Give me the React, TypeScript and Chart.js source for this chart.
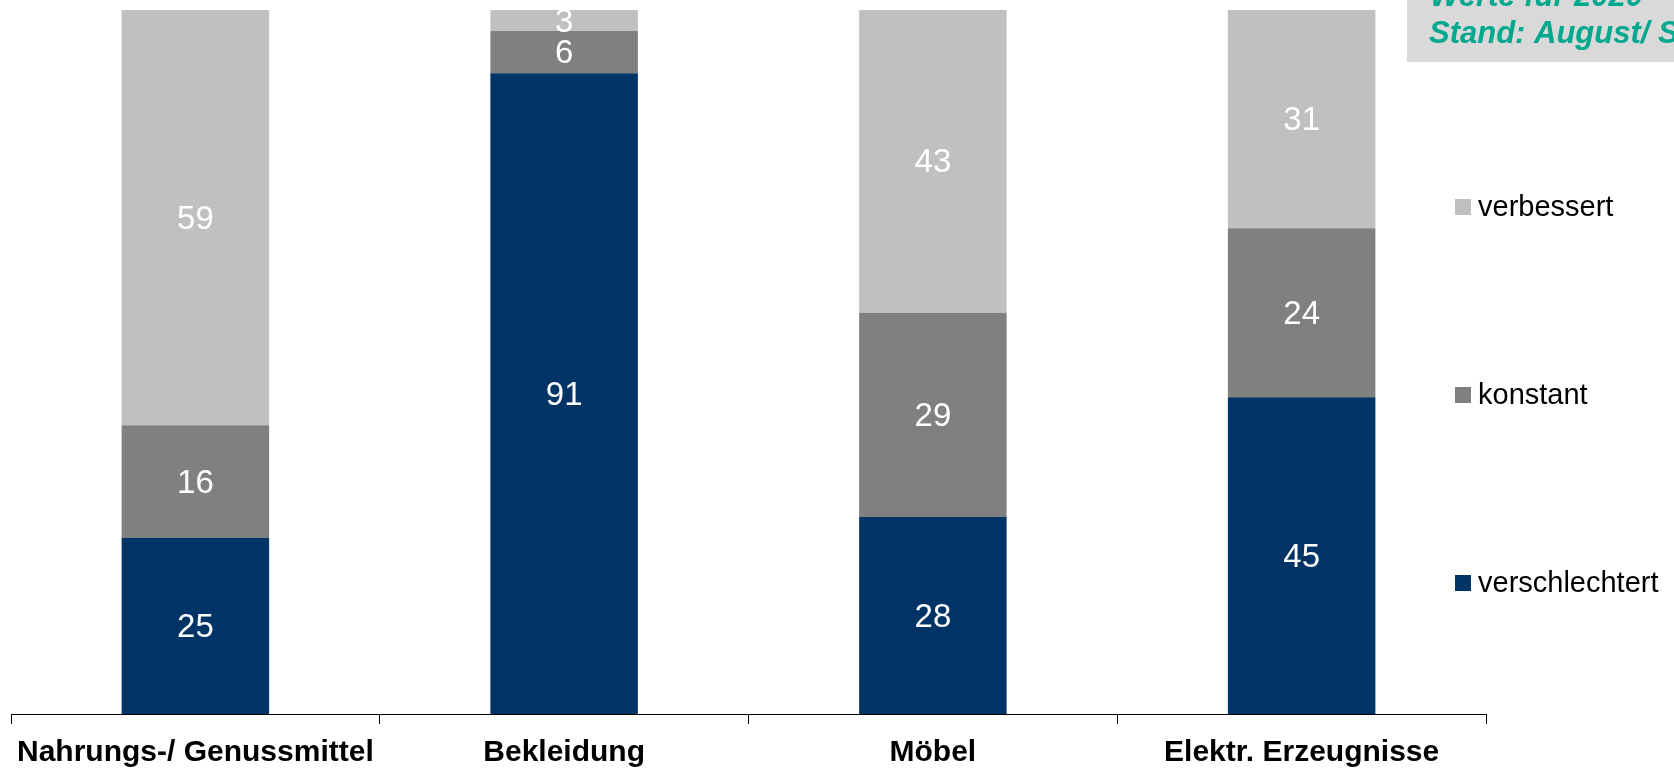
import React, { useEffect, useRef } from "react";
import { Chart, registerables } from "chart.js";

Chart.register(...registerables);

const categories = ["Nahrungs-/ Genussmittel", "Bekleidung", "Möbel", "Elektr. Erzeugnisse"];
const verschlechtert = [25, 91, 28, 45];
const konstant = [16, 6, 29, 24];
const verbessert = [59, 3, 43, 31];
const noteLines = ["Werte für 2020", "Stand: August/ September 2020"];

const FONT = "'Liberation Sans', Arial, Helvetica, sans-serif";

const valueLabels = {
  id: "valueLabels",
  afterDatasetsDraw(chart: any) {
    const ctx = chart.ctx;
    ctx.save();
    ctx.fillStyle = "#ffffff";
    ctx.font = `33px ${FONT}`;
    ctx.textAlign = "center";
    ctx.textBaseline = "middle";
    chart.data.datasets.forEach((ds: any, di: number) => {
      const meta = chart.getDatasetMeta(di);
      meta.data.forEach((el: any, i: number) => {
        const v = ds.data[i];
        const props = el.getProps(["x", "y", "base"], true);
        const cy = (props.y + props.base) / 2;
        ctx.fillText(String(v), props.x, cy + 2);
      });
    });
    ctx.restore();
  },
};

const sideLegend = {
  id: "sideLegend",
  afterDraw(chart: any) {
    const ctx = chart.ctx;
    const ys = [583, 395, 207];
    ctx.save();
    ctx.textAlign = "left";
    ctx.textBaseline = "middle";
    ctx.font = `29px ${FONT}`;
    chart.data.datasets.forEach((ds: any, di: number) => {
      const y = ys[di];
      ctx.fillStyle = ds.backgroundColor;
      ctx.fillRect(1455, y - 8, 16, 16);
      ctx.fillStyle = "#000000";
      ctx.fillText(ds.label, 1478, y + 1);
    });
    // note box
    ctx.fillStyle = "#d9d9d9";
    ctx.fillRect(1407, 0, 300, 62);
    ctx.fillStyle = "#00a88e";
    ctx.font = `italic bold 31px ${FONT}`;
    ctx.textBaseline = "alphabetic";
    ctx.fillText(noteLines[0], 1430, 6);
    ctx.fillText(noteLines[1], 1429, 43);
    ctx.restore();
  },
};

export default function App() {
  const ref = useRef<HTMLCanvasElement>(null);
  useEffect(() => {
    if (!ref.current) return;
    const chart = new Chart(ref.current, {
      type: "bar",
      data: {
        labels: categories,
        datasets: [
          { label: "verschlechtert", data: verschlechtert, backgroundColor: "#003366" },
          { label: "konstant", data: konstant, backgroundColor: "#808080" },
          { label: "verbessert", data: verbessert, backgroundColor: "#c0c0c0" },
        ],
      },
      options: {
        responsive: false,
        animation: false,
        layout: { padding: { top: 10, left: 11, right: 188, bottom: 0 } },
        plugins: { legend: { display: false }, tooltip: { enabled: false } },
        datasets: { bar: { categoryPercentage: 1, barPercentage: 0.4 } },
        scales: {
          x: {
            stacked: true,
            afterFit: (s: any) => {
              s.height = 54;
              s.paddingLeft = 0;
              s.paddingRight = 0;
            },
            grid: {
              offset: true,
              drawOnChartArea: false,
              drawTicks: true,
              tickLength: 10,
              color: "#000000",
              lineWidth: 1,
            },
            border: { display: true, color: "#000000", width: 1 },
            ticks: {
              autoSkip: false,
              maxRotation: 0,
              minRotation: 0,
              padding: 11,
              color: "#000000",
              font: { family: FONT, size: 30, weight: "bold" },
            },
          },
          y: {
            stacked: true,
            display: false,
            min: 0,
            max: 100,
          },
        },
      },
      plugins: [valueLabels, sideLegend],
    });
    return () => chart.destroy();
  }, []);
  return (
    <div style={{ position: "fixed", left: 0, top: 0, width: 1674, height: 768, background: "#fff" }}>
      <canvas ref={ref} width={1674} height={768} />
    </div>
  );
}
